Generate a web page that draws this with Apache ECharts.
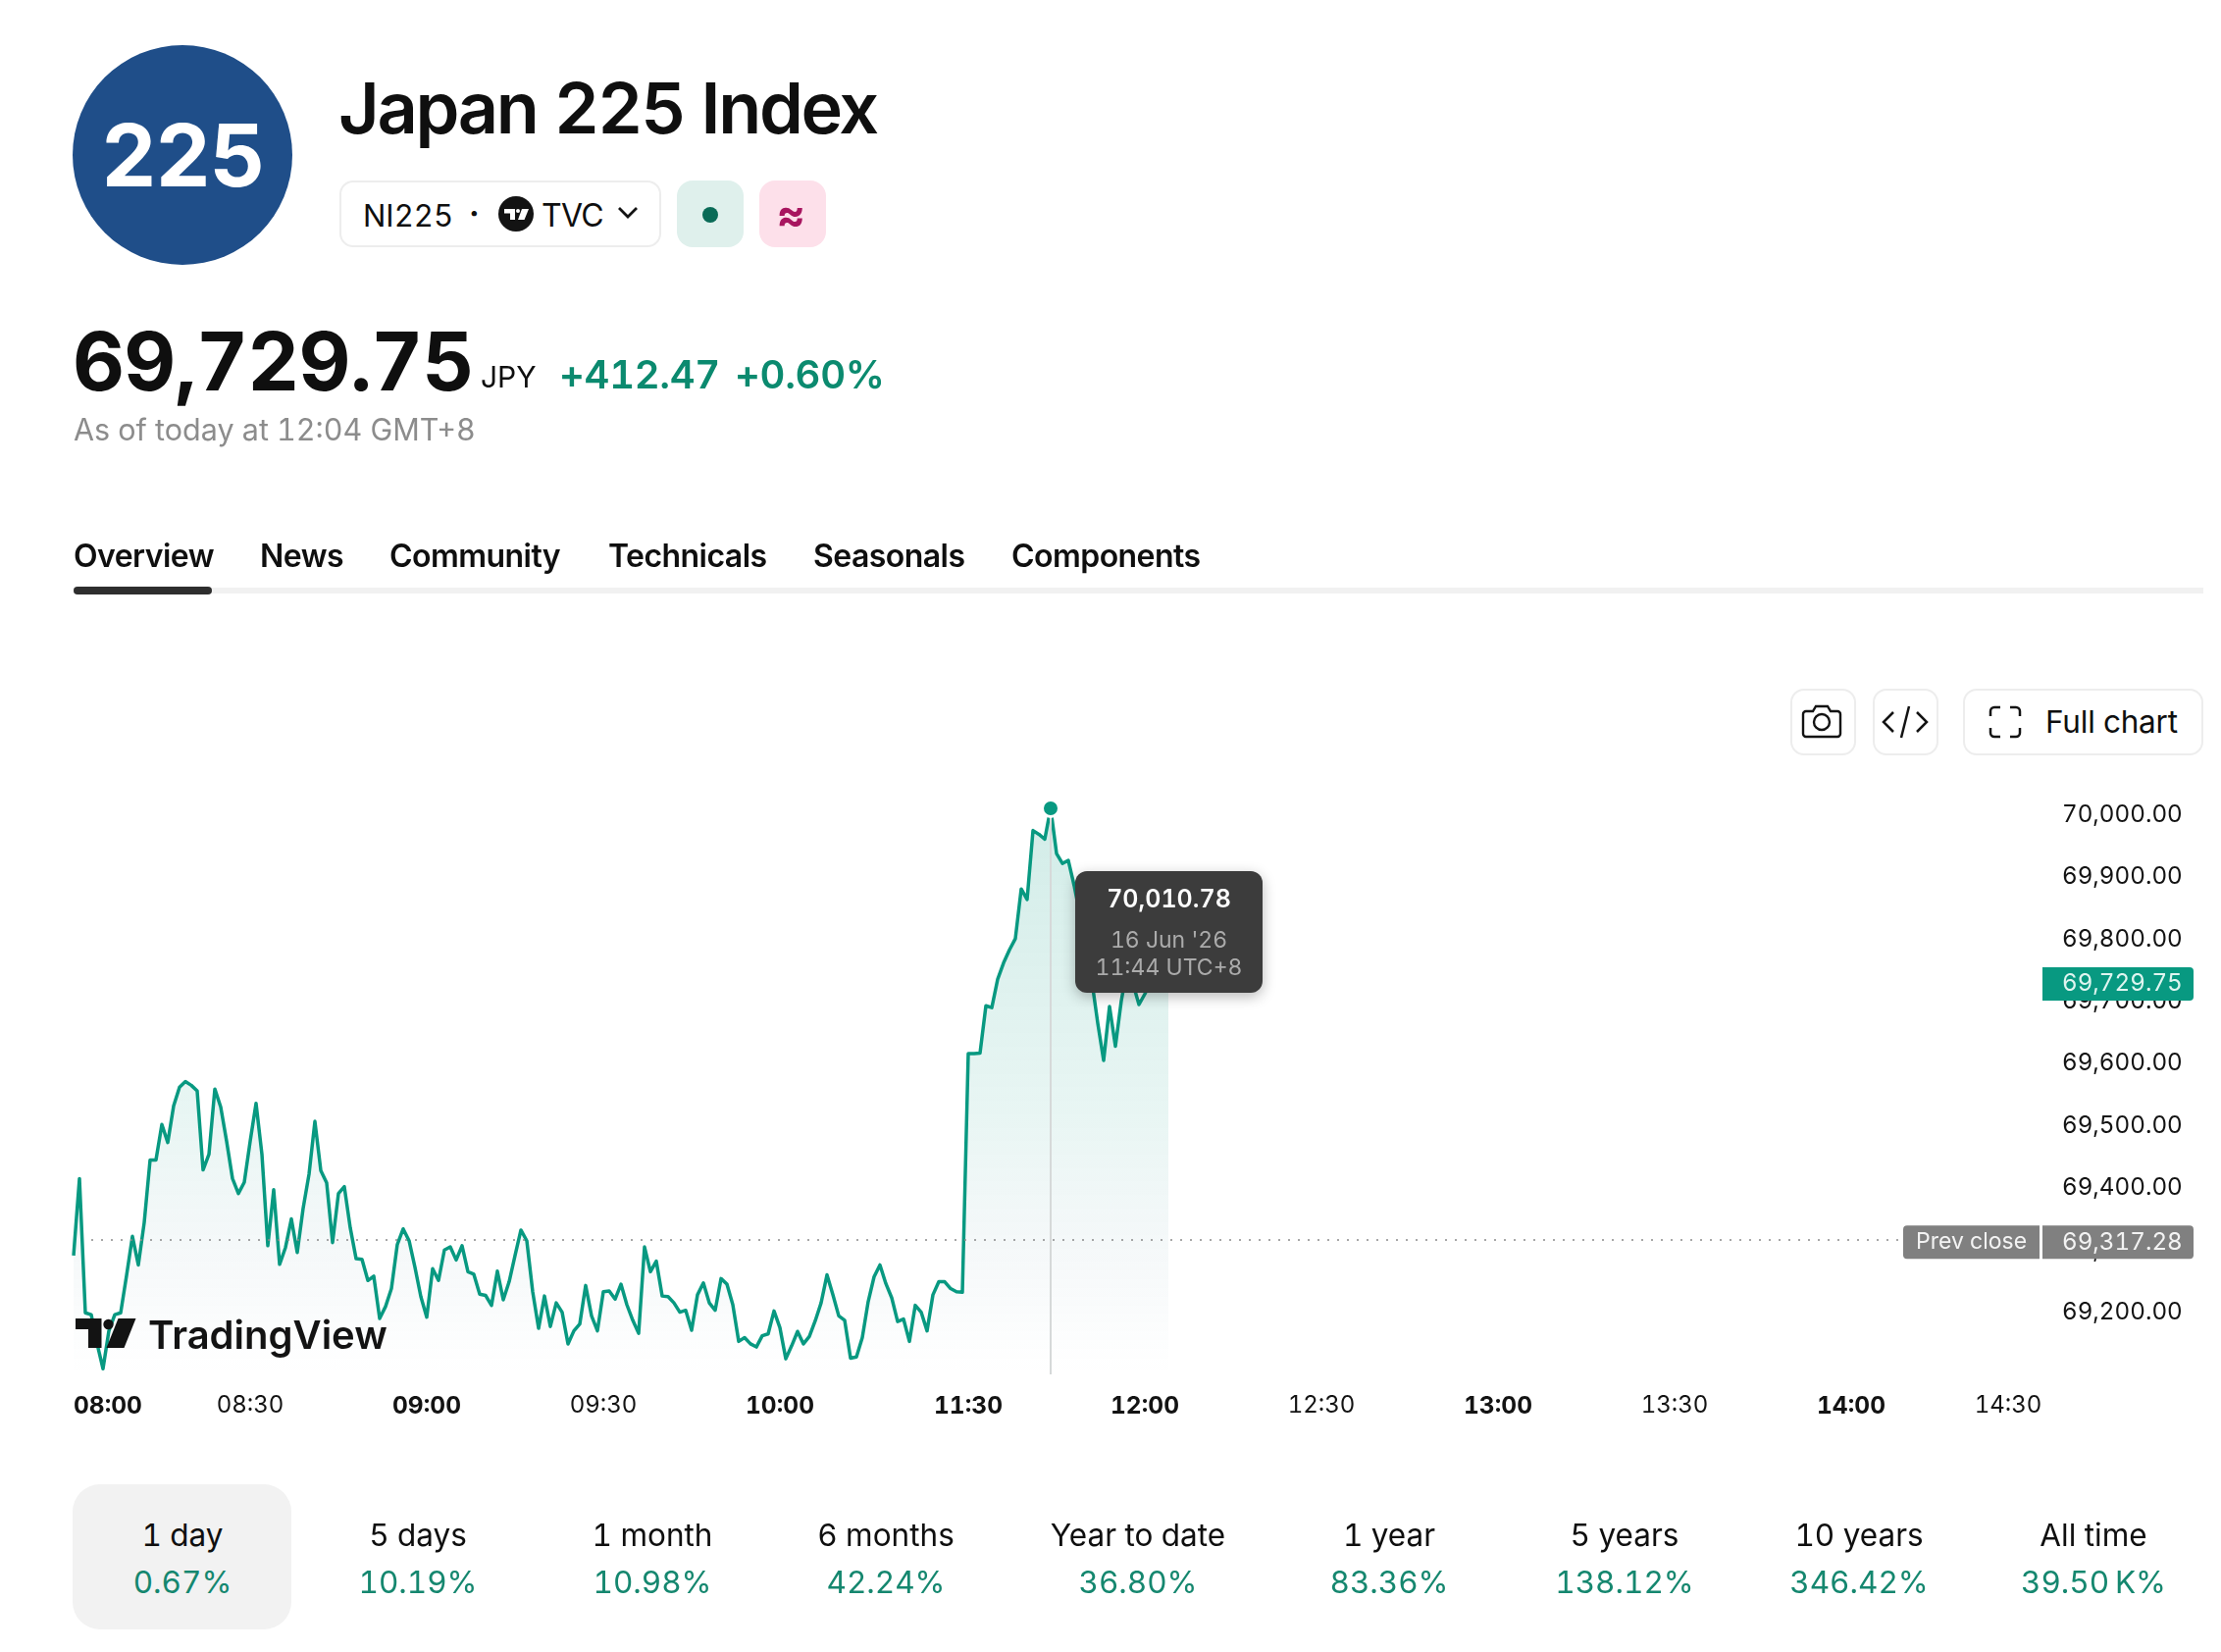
<!DOCTYPE html>
<html>
<head>
<meta charset="utf-8">
<title>Japan 225 Index</title>
<script src="https://cdn.jsdelivr.net/npm/echarts@6/dist/echarts.min.js"></script>
<style>
  html, body { margin: 0; padding: 0; background: #fff; }
  body { width: 2264px; height: 1684px; position: relative; overflow: hidden; font-family: Inter, "Noto Sans", sans-serif; color: #0f0f0f; font-variant-numeric: tabular-nums; }
  #chart { position: absolute; left: 0; top: 0; width: 2264px; height: 1684px; }
  .abs { position: absolute; white-space: nowrap; line-height: 1; }
  .box { position: absolute; box-sizing: border-box; border: 2px solid #ededed; border-radius: 14px; background: #fff; }
  .logo { left: 74px; top: 46px; width: 224px; height: 224px; border-radius: 50%; background: #1f4e89; color: #fff; font-size: 88px; font-weight: 700; text-align: center; line-height: 224px; letter-spacing: -1.5px; position: absolute; }
  .title { left: 345px; top: 74px; font-size: 72px; font-weight: 600; letter-spacing: -2.3px; }
  .price { left: 74px; top: 328px; font-size: 82px; font-weight: 700; letter-spacing: -0.7px; }
  .unit { left: 490px; top: 369px; font-size: 30px; }
  .chg { top: 362px; font-size: 40px; font-weight: 600; color: #0b8a6f; letter-spacing: -0.3px; }
  .asof { left: 75px; top: 423px; font-size: 30.500px; color: #8c8c8c; }
  .tab { top: 551px; font-size: 32px; font-weight: 600; letter-spacing: -0.55px; }
  .track { position: absolute; left: 75px; width: 2171px; top: 599px; height: 6px; background: #f1f1f1; }
  .active { position: absolute; left: 75px; width: 141px; top: 598px; height: 8px; border-radius: 4px; background: #2e2e2e; }
  .period { position: absolute; top: 0; transform: translateX(-50%); text-align: center; white-space: nowrap; }
  .period .p1 { position: absolute; top: 1549px; left: 0; transform: translateX(-50%); font-size: 31.500px; line-height: 1; }
  .period .p2 { position: absolute; top: 1597px; left: 0; transform: translateX(-50%); font-size: 31.500px; line-height: 1; color: #15876f; }
  svg { position: absolute; }
</style>
</head>
<body>
<div id="chart"></div>

<div class="logo">225</div>
<div class="abs title">Japan 225 Index</div>

<div class="box" style="left:346px;top:184px;width:328px;height:68px;"></div>
<div class="abs" style="left:370px;top:204px;font-size:31px;">NI225</div>
<div class="abs" style="left:478px;top:202px;font-size:32px;font-weight:700;">·</div>
<svg style="left:508px;top:200px" width="36" height="36" viewBox="0 0 36 36">
  <circle cx="18" cy="18" r="18" fill="#131313"/>
  <path d="M6 13h11v11h-5v-6.500h-6z" fill="#fff"/><circle cx="20" cy="15" r="2" fill="#fff"/><path d="M24 13h7l-4.500 11h-6.500z" fill="#fff"/>
</svg>
<div class="abs" style="left:552px;top:204px;font-size:32px;letter-spacing:-.7px;">TVC</div>
<svg style="left:628px;top:209px" width="24" height="16" viewBox="0 0 24 16"><path d="M3 3l9 9 9-9" fill="none" stroke="#131313" stroke-width="2.800"/></svg>

<div class="box" style="left:690px;top:184px;width:68px;height:68px;border:0;border-radius:16px;background:#dff0ec;"></div>
<svg style="left:715px;top:210px" width="18" height="18"><circle cx="9" cy="9" r="8" fill="#0a6b57"/></svg>
<div class="box" style="left:774px;top:184px;width:68px;height:68px;border:0;border-radius:16px;background:#fde0ea;"></div>
<div class="abs" style="left:792px;top:196px;font-size:44px;font-weight:700;color:#a8155f;">≈</div>

<div class="abs price">69,729.75</div>
<div class="abs unit">JPY</div>
<div class="abs chg" style="left:570px;">+412.47</div>
<div class="abs chg" style="left:749px;">+0.60%</div>
<div class="abs asof">As of today at 12:04 GMT+8</div>

<div id="tabs"></div>
<div class="track"></div>
<div class="active"></div>

<div class="box" style="left:1825px;top:702px;width:67px;height:68px;"></div>
<svg style="left:1835px;top:716px" width="44" height="40" viewBox="0 0 44 40" fill="none" stroke="#131313" stroke-width="2.400">
  <path d="M3 12a3 3 0 0 1 3-3h7l3-5h12l3 5h7a3 3 0 0 1 3 3v20a3 3 0 0 1-3 3H6a3 3 0 0 1-3-3z"/><circle cx="22" cy="20" r="8"/>
</svg>
<div class="box" style="left:1909px;top:702px;width:67px;height:68px;"></div>
<svg style="left:1917px;top:718px" width="50" height="36" viewBox="0 0 50 36" fill="none" stroke="#131313" stroke-width="2.500">
  <path d="M13 8l-10 10 10 10M37 8l10 10-10 10M29 2l-8 32"/>
</svg>
<div class="box" style="left:2001px;top:702px;width:245px;height:68px;"></div>
<svg style="left:2027px;top:719px" width="34" height="34" viewBox="0 0 34 34" fill="none" stroke="#131313" stroke-width="2.500">
  <path d="M2 11V6a4 4 0 0 1 4-4h6M22 2h6a4 4 0 0 1 4 4v5M32 23v5a4 4 0 0 1-4 4h-6M12 32H6a4 4 0 0 1-4-4v-5"/>
</svg>
<div class="abs" style="left:2085px;top:720px;font-size:31.500px;font-weight:400;letter-spacing:-.2px;">Full chart</div>

<div class="box" style="left:74px;top:1513px;width:223px;height:148px;border:0;border-radius:28px;background:#f2f2f2;"></div>
<div id="periods"></div>

<script>
// Minute closes of the index. The first run covers 08:00-10:31, the second starts at 11:30.
const morningValues = [
  69291, 69415, 69199, 69196, 69149, 69109, 69170, 69196, 69199, 69259, 69322, 69276, 69344, 69445, 69445, 69502,
  69473, 69532, 69562, 69571, 69565, 69556, 69429, 69454, 69559, 69530, 69475, 69415, 69391, 69409, 69475, 69536,
  69454, 69307, 69397, 69277, 69304, 69350, 69296, 69367, 69422, 69507, 69428, 69408, 69312, 69391, 69402, 69336,
  69286, 69285, 69251, 69258, 69190, 69209, 69238, 69309, 69334, 69315, 69272, 69225, 69192, 69270, 69251, 69300,
  69305, 69284, 69307, 69265, 69261, 69229, 69227, 69211, 69266, 69220, 69249, 69291, 69332, 69315, 69233, 69174,
  69226, 69177, 69215, 69200, 69149, 69170, 69181, 69243, 69194, 69170, 69233, 69234, 69221, 69245, 69212, 69187,
  69166, 69305, 69265, 69282, 69226, 69225, 69215, 69200, 69203, 69171, 69228, 69247, 69215, 69203, 69254, 69245,
  69212, 69153, 69159, 69149, 69144, 69162, 69165, 69202, 69175, 69125, 69146, 69169, 69149, 69161, 69186, 69215,
  69260, 69228, 69194, 69187, 69126, 69128, 69159, 69217, 69257, 69276, 69246, 69223, 69185, 69189, 69153, 69211,
  69200, 69170, 69228, 69249, 69249, 69238, 69233, 69232
];
const middayValues = [
  69616, 69616, 69617, 69693, 69690, 69736, 69762, 69783, 69801, 69881, 69864, 69975, 69969, 69961, 70010.78, 69938,
  69922, 69927, 69886, 69838, 69796, 69733, 69665, 69605, 69692, 69628, 69701, 69754, 69728, 69695, 69712, 69733,
  69738, 69727, 69729.75
];
const prevClose = 69317.28;
const lastPrice = 69729.75;
const hoveredValue = 70010.78;
const hoveredSlot = 166;
const hoverDate = "16 Jun '26";
const hoverTime = '11:44 UTC+8';

const xTicks = ['08:00', '08:30', '09:00', '09:30', '10:00', '11:30', '12:00', '12:30', '13:00', '13:30', '14:00', '14:30'];
const xTicksBold = ['08:00', '09:00', '10:00', '11:30', '12:00', '13:00', '14:00'];

const tabNames = ['Overview', 'News', 'Community', 'Technicals', 'Seasonals', 'Components'];
const tabLefts = [75, 265, 397, 620, 829, 1031];
const periodNames = ['1 day', '5 days', '1 month', '6 months', 'Year to date', '1 year', '5 years', '10 years', 'All time'];
const periodChanges = ['0.67%', '10.19%', '10.98%', '42.24%', '36.80%', '83.36%', '138.12%', '346.42%', '39.50\u202FK%'];
const periodCentres = [186, 426, 665, 903, 1160, 1416, 1656, 1895, 2134];

document.getElementById('tabs').innerHTML = tabNames
  .map((n, i) => `<div class="abs tab" style="left:${tabLefts[i]}px">${n}</div>`).join('');
document.getElementById('periods').innerHTML = periodNames
  .map((n, i) => `<div class="period" style="left:${periodCentres[i]}px"><div class="p1">${n}</div><div class="p2">${periodChanges[i]}</div></div>`).join('');

// One x slot per minute; the sessions sit side by side with no gap for the closed market.
function minuteSlots(startHour, startMinute, count) {
  const out = [];
  for (let i = 0; i < count; i++) {
    const t = startHour * 60 + startMinute + i;
    out.push(String(Math.floor(t / 60)).padStart(2, '0') + ':' + String(t % 60).padStart(2, '0'));
  }
  return out;
}
const slots = minuteSlots(8, 0, morningValues.length).concat(minuteSlots(11, 30, 183));
const values = morningValues.concat(middayValues);

const UI_FONT = 'Inter, "Noto Sans", sans-serif';
const GREEN = '#089981';

const chart = echarts.init(document.getElementById('chart'), null, { renderer: 'canvas' });
chart.setOption({
  animation: false,
  backgroundColor: 'transparent',
  textStyle: { fontFamily: UI_FONT },
  grid: { left: 75, width: 2004, top: 799.1, height: 601.85, containLabel: false },
  xAxis: {
    type: 'category',
    data: slots,
    boundaryGap: false,
    axisLine: { show: false },
    axisTick: { show: false },
    splitLine: { show: false },
    axisLabel: {
      margin: 20,
      hideOverlap: false,
      alignMinLabel: 'left',
      interval: (i, name) => xTicks.includes(name),
      formatter: (name) => {
        if (name === '14:30') return '{end|' + name + '}';
        return (xTicksBold.includes(name) ? '{b|' : '{n|') + name + '}';
      },
      rich: {
        b: { fontFamily: UI_FONT, fontSize: 24.5, fontWeight: 700, color: '#131313' },
        n: { fontFamily: UI_FONT, fontSize: 24, fontWeight: 400, color: '#131313' },
        end: { fontFamily: UI_FONT, fontSize: 24, fontWeight: 400, color: '#131313', padding: [0, 40, 0, 0] }
      }
    }
  },
  yAxis: {
    type: 'value',
    position: 'right',
    min: 69100,
    max: 70050,
    interval: 100,
    axisLine: { show: false },
    axisTick: { show: false },
    splitLine: { show: false },
    axisLabel: {
      margin: 23,
      showMinLabel: false,
      showMaxLabel: false,
      fontSize: 24.2,
      color: '#131313',
      fontFamily: UI_FONT,
      padding: [0, 0, 4, 0],
      formatter: (v) => v.toLocaleString('en-US', { minimumFractionDigits: 2, maximumFractionDigits: 2 })
    }
  },
  graphic: {
    elements: [
      { type: 'polygon', z: 100, silent: true, shape: { points: [[77, 1344], [103.5, 1344], [103.5, 1374], [90, 1374], [90, 1355], [77, 1355]] }, style: { fill: '#131313' } },
      { type: 'circle', z: 100, silent: true, shape: { cx: 110.5, cy: 1350, r: 5.2 }, style: { fill: '#131313' } },
      { type: 'polygon', z: 100, silent: true, shape: { points: [[120.5, 1344], [138.5, 1344], [126.5, 1374], [108.5, 1374]] }, style: { fill: '#131313' } },
      { type: 'text', z: 100, silent: true, x: 151, y: 1343, style: { text: 'TradingView', font: '600 40px Inter, sans-serif', fill: '#131313' } }
    ]
  },
  series: [
    {
      name: 'Japan 225 Index',
      type: 'line',
      data: values,
      showSymbol: false,
      smooth: false,
      silent: true,
      z: 3,
      lineStyle: { color: GREEN, width: 3.5, join: 'round' },
      areaStyle: {
        origin: 'start',
        color: new echarts.graphic.LinearGradient(0, 0, 0, 1, [
          { offset: 0, color: 'rgba(8,153,129,0.26)' },
          { offset: 0.55, color: 'rgba(8,153,129,0.13)' },
          { offset: 0.8, color: 'rgba(70,130,150,0.07)' },
          { offset: 0.95, color: 'rgba(70,130,150,0.015)' },
          { offset: 1, color: 'rgba(70,130,150,0)' }
        ])
      },
      markLine: {
        silent: true,
        symbol: 'none',
        animation: false,
        label: { show: false },
        data: [
          [{ coord: [3, prevClose], lineStyle: { color: '#8a8a8a', width: 1.5, type: [2, 8] } }, { coord: [310, prevClose] }],
          [{ coord: [hoveredSlot, hoveredValue], lineStyle: { color: '#d6d9d9', width: 2, type: 'solid' } }, { coord: [hoveredSlot, 69100] }]
        ]
      }
    },
    {
      // Hover dot with its readout box, plus the two price tags on the right edge.
      name: 'Annotations',
      type: 'scatter',
      silent: true,
      z: 6,
      clip: false,
      itemStyle: { opacity: 1 },
      data: [
        {
          value: [hoveredSlot, hoveredValue],
          symbolSize: 17,
          itemStyle: { color: GREEN, borderColor: '#fff', borderWidth: 3, opacity: 1 },
          label: {
            show: true,
            position: [130.5, 74],
            align: 'center',
            verticalAlign: 'top',
            width: 191,
            padding: [6, 0, 14, 0],
            backgroundColor: '#3c3c3c',
            borderRadius: 12,
            shadowColor: 'rgba(0,0,0,0.28)',
            shadowBlur: 14,
            shadowOffsetY: 4,
            formatter: [
              '{a|' + hoveredValue.toLocaleString('en-US', { minimumFractionDigits: 2 }) + '}',
              '{b|' + hoverDate + '}',
              '{c|' + hoverTime + '}'
            ].join('\n'),
            rich: {
              a: { fontFamily: UI_FONT, fontSize: 25, fontWeight: 600, color: '#fff', lineHeight: 48, align: 'center' },
              b: { fontFamily: UI_FONT, fontSize: 23, color: '#ababab', lineHeight: 34, align: 'center' },
              c: { fontFamily: UI_FONT, fontSize: 23, color: '#ababab', lineHeight: 22, align: 'center' }
            }
          }
        },
        {
          value: [334, lastPrice],
          symbolSize: 0,
          label: {
            show: true, position: 'right', distance: 3, offset: [0, 1],
            backgroundColor: GREEN, color: '#dff5f0', fontFamily: UI_FONT, fontSize: 24.2,
            width: 120, height: 34, lineHeight: 34, padding: [0, 14, 0, 20], borderRadius: [0, 4, 4, 0],
            formatter: () => lastPrice.toLocaleString('en-US', { minimumFractionDigits: 2 })
          }
        },
        {
          value: [334, prevClose],
          symbolSize: 0,
          label: {
            show: true, position: 'right', distance: 3, offset: [0, 3],
            backgroundColor: '#808080', color: '#f3f3f3', fontFamily: UI_FONT, fontSize: 24.2,
            width: 120, height: 34, lineHeight: 30, padding: [0, 14, 0, 20], borderRadius: [0, 4, 4, 0],
            formatter: () => prevClose.toLocaleString('en-US', { minimumFractionDigits: 2 })
          }
        },
        {
          value: [334, prevClose],
          symbolSize: 0,
          label: {
            show: true, position: 'left', distance: 0, offset: [0, 3],
            backgroundColor: '#808080', color: '#f3f3f3', fontFamily: UI_FONT, fontSize: 22,
            width: 139, height: 34, lineHeight: 34, align: 'right', padding: 0, borderRadius: [4, 0, 0, 4],
            formatter: '{t|Prev close}',
            rich: { t: { fontFamily: UI_FONT, fontSize: 23, color: '#f3f3f3', align: 'center', width: 139 } }
          }
        }
      ]
    }
  ]
});
</script>
</body>
</html>
